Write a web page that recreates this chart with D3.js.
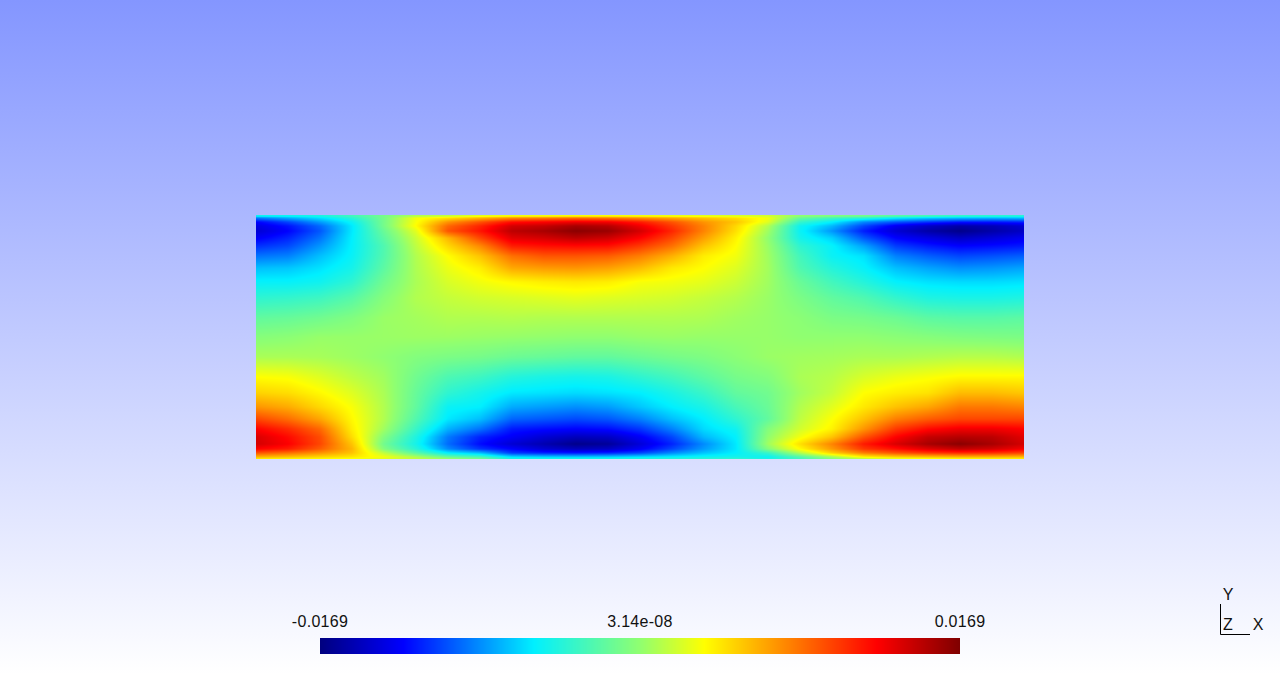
<!DOCTYPE html>
<html>
<head>
<meta charset="utf-8">
<script src="https://cdn.jsdelivr.net/npm/d3@7"></script>
<style>
html,body{margin:0;padding:0;background:#fff;overflow:hidden}
svg{display:block}
text{font-family:"Liberation Sans",Arial,sans-serif;font-size:16px;fill:#111}
</style>
</head>
<body>
<svg id="chart" width="1280" height="674"></svg>
<script>
// Field sample positions in field units (non-uniform across the thin boundary layers)
const xSamples = [0,32,64,96,128,160,192,224,256,288,320,352,384,416,448,480,512,544,576,608,640,672,704,736,768];
const ySamples = [1,3,7,11,16,23,31,41,53,67,83,103,122,142,162,178,192,204,214,222,229,234,238,242,244];
// Values (x 1e-4), one list per x sample, top to bottom
const fieldColumns = [
[-50,-90,-125,-135,-140,-128,-112,-92,-70,-54,-38,-18,-4, 8,34,50,72,100,125,138,140,125,95,60,38],
[-50,-75,-105,-120,-125,-115,-104,-88,-68,-54,-36,-16,-2, 8,32,46,64,86,110,122,126,115,85,55,35],
[-45,-60,-80,-95,-100,-92,-82,-70,-60,-50,-32,-12,2, 7,24,36,48,66,88,98,100,92,72,48,34],
[-30,-40,-52,-58,-58,-56,-55,-53,-48,-38,-22,-6,2, 4,14,24,32,36,40,46,55,60,55,42,30],
[-10,-10,-10,-10,-15,-20,-25,-24,-20,-12,-4,3,3, 0,5,8,10,10,5,-5,-12,-5,15,30,25],
[10,30,32,35,25,18,14,10,9,8,10,6,4, -5,-12,-16,-18,-24,-34,-44,-48,-40,-20,10,15],
[15,45,72,88,95,60,48,34,28,22,16,10,4, -8,-26,-38,-52,-58,-74,-90,-94,-85,-55,-15,5],
[25,60,95,112,118,100,76,55,40,30,20,10,3, -10,-32,-48,-56,-70,-92,-115,-122,-110,-70,-28,-8],
[30,75,120,140,148,135,115,85,65,36,22,11,2, -14,-42,-58,-76,-96,-118,-128,-140,-125,-108,-60,-45],
[30,80,125,145,155,140,120,95,70,40,24,10,1, -16,-46,-60,-80,-100,-122,-140,-152,-140,-115,-65,-45],
[32,85,130,155,165,148,122,95,72,42,26,10,0, -18,-48,-62,-84,-104,-125,-148,-165,-148,-118,-66,-45],
[32,82,128,150,160,142,120,92,68,40,24,10,0, -18,-46,-60,-80,-100,-122,-145,-160,-145,-115,-65,-44],
[30,75,115,130,140,125,105,80,58,32,22,10,2, -14,-38,-56,-68,-88,-110,-128,-138,-128,-105,-60,-42],
[28,65,95,105,112,100,85,62,42,30,20,10,3, -10,-30,-46,-56,-70,-88,-105,-115,-105,-85,-55,-40],
[25,55,72,78,78,68,55,40,34,26,16,9,2, -7,-20,-34,-46,-56,-62,-72,-85,-80,-68,-50,-38],
[22,45,55,48,45,38,34,30,24,18,11,5,2, -2,-10,-18,-28,-38,-50,-55,-58,-58,-55,-48,-35],
[20,30,25,10,5,0,3,5,6,5,3,2,2, 3,-5,-12,-15,-18,-5,0,5,-5,-35,-52,-45],
[0,-15,-35,-50,-52,-48,-38,-30,-25,-15,-8,-2,0, 5,8,5,10,14,20,30,45,35,10,-25,-30],
[-5,-30,-55,-72,-82,-65,-54,-52,-42,-30,-18,-8,0, 6,12,16,25,33,38,55,78,70,50,5,-5],
[-10,-40,-85,-105,-117,-100,-78,-60,-54,-42,-25,-10,0, 8,22,34,42,56,72,95,116,105,80,38,10],
[-20,-55,-100,-130,-140,-125,-108,-88,-70,-55,-36,-14,-2, 8,28,40,56,80,105,125,138,120,95,50,22],
[-28,-65,-110,-145,-155,-135,-118,-98,-78,-60,-44,-20,-4, 10,32,44,66,92,122,145,155,135,105,55,28],
[-35,-70,-118,-155,-165,-145,-125,-105,-84,-62,-46,-22,-6, 12,36,58,82,100,130,150,165,145,110,60,32],
[-38,-72,-118,-150,-155,-138,-122,-102,-82,-62,-46,-22,-7, 12,36,58,82,100,130,148,155,140,108,60,34],
[-40,-70,-115,-140,-145,-130,-118,-98,-78,-60,-44,-20,-8, 10,36,54,78,100,125,135,140,128,100,58,36]
];
// Colour legend
const legendStops = [-169,-125,-56,0,34,125,169];
const legendColors = ["#00007f","#0000ff","#00f0ff","#90ff70","#ffff00","#ff0000","#7f0000"];
const legendLabels = ["-0.0169","3.14e-08","0.0169"];
const legendLabelValues = [-169,0,169];
const axisLabels = ["Y","Z","X"];
const backgroundStops = ["#8496ff","#ffffff"];

const W = 1280, H = 674;
const svg = d3.select("#chart");

const defs = svg.append("defs");
const bg = defs.append("linearGradient").attr("id","bg").attr("x1",0).attr("x2",0).attr("y1",0).attr("y2",1);
backgroundStops.forEach((c,i)=>bg.append("stop").attr("offset",i).attr("stop-color",c));
svg.append("rect").attr("width",W).attr("height",H).attr("fill","url(#bg)");

const color = d3.scaleLinear().domain(legendStops).range(legendColors).interpolate(d3.interpolateRgb).clamp(true);

// Field: sample grid drawn through scales, resolved per pixel in the image
const x = d3.scaleLinear().domain([0,768]).range([256,1024]);
const y = d3.scaleLinear().domain([0,244]).range([215,459]);
const xIndex = d3.scaleLinear().domain(xSamples).range(d3.range(xSamples.length)).clamp(true);
const yIndex = d3.scaleLinear().domain(ySamples).range(d3.range(ySamples.length)).clamp(true);
const nx = xSamples.length, ny = ySamples.length;
const fw = Math.round(x(768)-x(0)), fh = Math.round(y(244)-y(0));
const cv = document.createElement("canvas"); cv.width = fw; cv.height = fh;
const ctx = cv.getContext("2d");
const img = ctx.createImageData(fw,fh);
for(let j=0;j<fh;j++){
  const fy = yIndex(y.invert(y(0)+j+0.5));
  const j0 = Math.min(Math.floor(fy),ny-2), ty = fy-j0;
  for(let i=0;i<fw;i++){
    const fx = xIndex(x.invert(x(0)+i+0.5));
    const i0 = Math.min(Math.floor(fx),nx-2), tx = fx-i0;
    const a = fieldColumns[i0][j0]*(1-ty)+fieldColumns[i0][j0+1]*ty;
    const b = fieldColumns[i0+1][j0]*(1-ty)+fieldColumns[i0+1][j0+1]*ty;
    const c = d3.rgb(color(a*(1-tx)+b*tx));
    const k = 4*(j*fw+i);
    img.data[k]=c.r; img.data[k+1]=c.g; img.data[k+2]=c.b; img.data[k+3]=255;
  }
}
ctx.putImageData(img,0,0);
svg.append("image").attr("x",x(0)).attr("y",y(0)).attr("width",fw).attr("height",fh)
   .attr("href",cv.toDataURL());

// Colour bar
const legendX = d3.scaleLinear().domain([-169,169]).range([320,960]);
svg.append("g").selectAll("rect").data(d3.range(640)).join("rect")
  .attr("x",d=>320+d).attr("y",638).attr("width",d=>d<639?1.5:1).attr("height",16)
  .attr("fill",d=>color(legendX.invert(320+d+0.5)));
svg.append("g").selectAll("text").data(legendLabels).join("text")
  .attr("x",(d,i)=>legendX(legendLabelValues[i])).attr("y",627)
  .attr("text-anchor","middle").attr("letter-spacing","0.3px").text(d=>d);

// Orientation triad
const triad = svg.append("g");
triad.append("path").attr("d","M1220.5,604V634.5H1250").attr("fill","none").attr("stroke","#000").attr("stroke-width",1);
const triadPos = [[1228,600],[1228,630],[1258,630]];
triad.selectAll("text").data(axisLabels).join("text")
  .attr("x",(d,i)=>triadPos[i][0]).attr("y",(d,i)=>triadPos[i][1])
  .attr("text-anchor","middle").text(d=>d);
</script>
</body>
</html>
